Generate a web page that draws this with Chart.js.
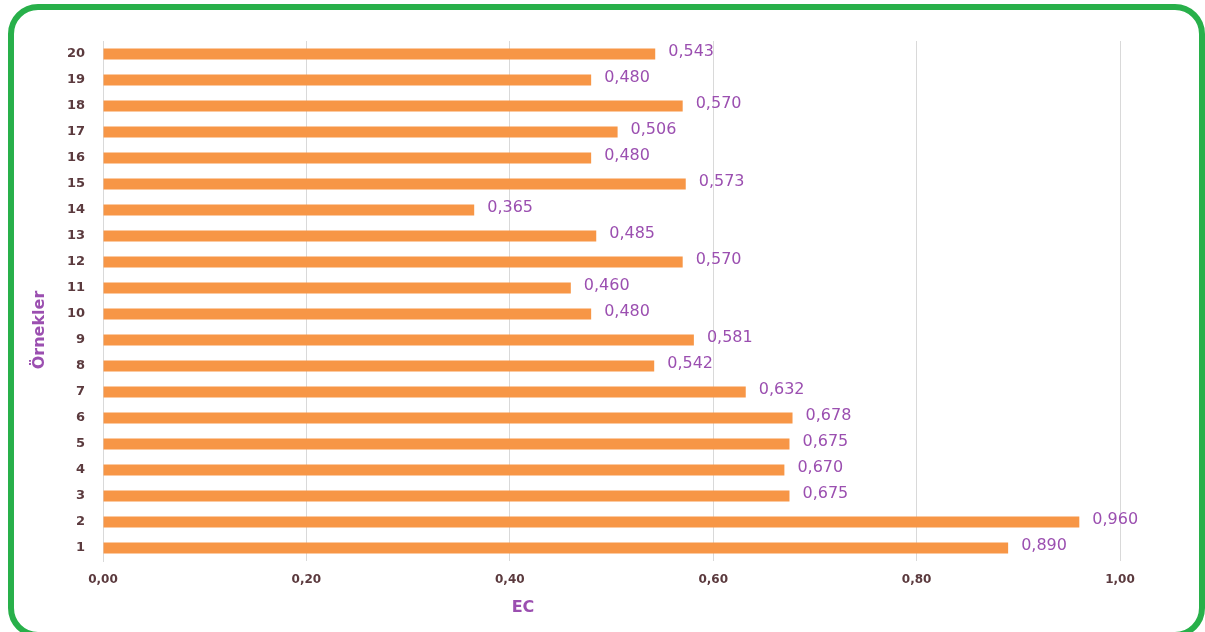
<!DOCTYPE html>
<html>
<head>
<meta charset="utf-8">
<script src="https://cdn.jsdelivr.net/npm/chart.js@4/dist/chart.umd.min.js"></script>
<style>
	html, body { margin: 0; padding: 0; background: #ffffff; overflow: hidden; }
	#frame {
		position: absolute; left: 8px; top: 4px; width: 1197px; height: 634px;
		box-sizing: border-box; border: 6px solid #28b04a; border-radius: 30px;
	}
	#ecChart { position: absolute; left: 0; top: 0; }
</style>
</head>
<body>
<div id="frame"></div>
<canvas id="ecChart" width="1205" height="632"></canvas>
<script>
// Chart data
const samples = ["1", "2", "3", "4", "5", "6", "7", "8", "9", "10", "11", "12", "13", "14", "15", "16", "17", "18", "19", "20"];
const ecValues = [0.890, 0.960, 0.675, 0.670, 0.675, 0.678, 0.632, 0.542, 0.581, 0.480, 0.460, 0.570, 0.485, 0.365, 0.573, 0.480, 0.506, 0.570, 0.480, 0.543];
const xTickValues = [0, 0.2, 0.4, 0.6, 0.8, 1.0];
const xTitle = "EC";
const yTitle = "Örnekler";

const purple = "#9b4fb0";
const tickColor = "#5b3a3e";

// Writes the value next to the end of each bar
const valueLabels = {
	id: "valueLabels",
	afterDatasetsDraw: function (chart) {
		const ctx = chart.ctx;
		const meta = chart.getDatasetMeta(0);
		ctx.save();
		ctx.font = "16px 'DejaVu Sans'";
		ctx.fillStyle = purple;
		ctx.textAlign = "left";
		ctx.textBaseline = "middle";
		meta.data.forEach((bar, i) => {
			ctx.fillText(ecValues[i].toFixed(3).replace(".", ","), bar.x + 13, bar.y - 2);
		});
		ctx.restore();
	},
};

// Axis titles sit off-centre in the original, so they are drawn here
const axisTitles = {
	id: "axisTitles",
	afterDraw: function (chart) {
		const ctx = chart.ctx;
		ctx.save();
		ctx.fillStyle = purple;
		ctx.font = "bold 16px 'DejaVu Sans'";
		ctx.textAlign = "center";
		ctx.textBaseline = "middle";
		ctx.fillText(xTitle, 523, 608);
		ctx.translate(40, 330);
		ctx.rotate(-Math.PI / 2);
		ctx.fillText(yTitle, 0, 0);
		ctx.restore();
	},
};

const ecChart = new Chart(document.getElementById("ecChart").getContext("2d"), {
	type: "bar",
	data: {
		labels: samples,
		datasets: [
			{
				data: ecValues,
				backgroundColor: "#f79646",
				borderWidth: 0,
				categoryPercentage: 1,
				barPercentage: 0.43,
			},
		],
	},
	options: {
		indexAxis: "y",
		responsive: false,
		animation: false,
		layout: {
			padding: { top: 41, right: 85, bottom: 0, left: 0 },
		},
		plugins: {
			legend: { display: false },
			tooltip: { enabled: false },
		},
		scales: {
			x: {
				min: 0,
				max: 1,
				afterBuildTicks: function (scale) {
					scale.ticks = xTickValues.map((v) => ({ value: v }));
				},
				afterFit: function (scale) {
					scale.height = 71;
				},
				grid: { color: "#d9d9d9", drawTicks: false },
				border: { display: false },
				ticks: {
					padding: 12,
					color: tickColor,
					font: { family: "DejaVu Sans", size: 12, weight: "bold" },
					callback: (v) => Number(v).toFixed(2).replace(".", ","),
				},
			},
			y: {
				reverse: true,
				afterFit: function (scale) {
					scale.width = 103;
				},
				grid: { display: false, drawTicks: false },
				border: { display: true, color: "#d9d9d9" },
				ticks: {
					padding: 18,
					color: tickColor,
					font: { family: "DejaVu Sans", size: 13, weight: "bold" },
				},
			},
		},
	},
	plugins: [valueLabels, axisTitles],
});
</script>
</body>
</html>
